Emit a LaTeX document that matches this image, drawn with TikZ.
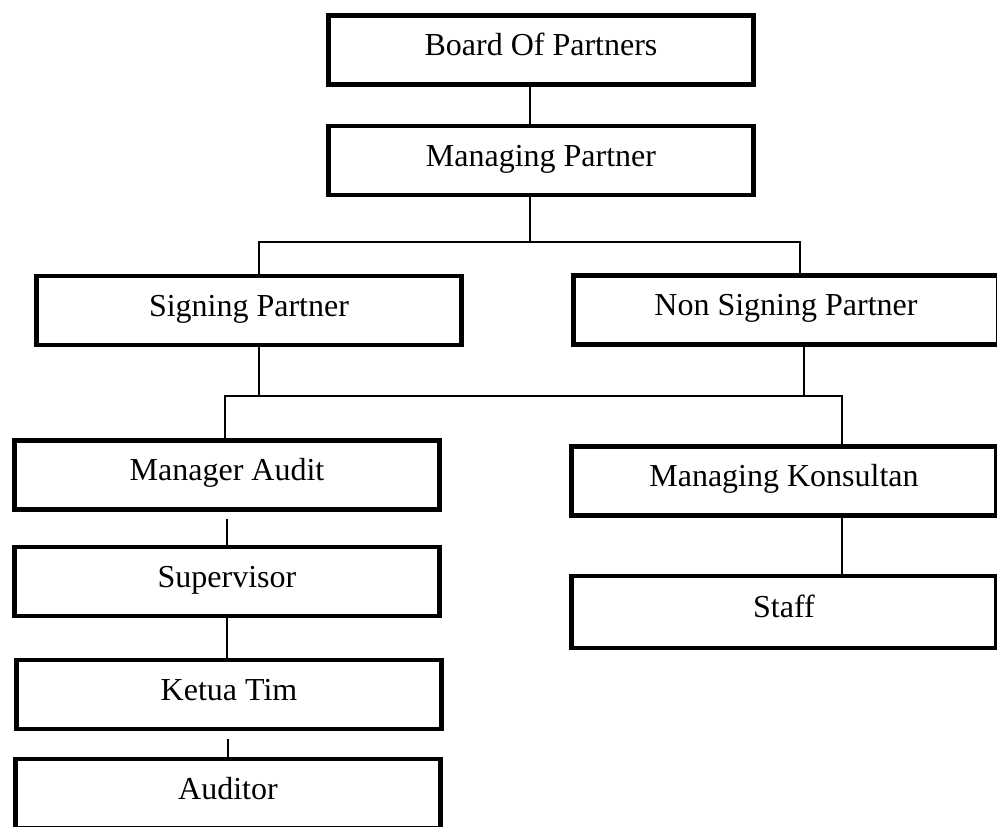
\documentclass[tikz,border=0pt]{standalone}
\usepackage{fontspec}
\setmainfont{Liberation Serif}
\usetikzlibrary{positioning}

\begin{document}
\begin{tikzpicture}[
  x=0.75pt,y=-0.75pt,
  post/.style={draw,line width=3.4pt,minimum width=319pt,minimum height=52pt,
    inner sep=0pt,text height=16pt,text depth=7.5pt,
    font=\fontsize{24}{28}\selectfont},
  link/.style={line width=1pt}]

  \useasboundingbox (0,0) rectangle (997,826);
  \clip (0,0) rectangle (997,826);

  % positions
  \node[post] (board) at (541,50) {Board Of Partners};
  \node[post] (mp) at (541,160.5) {Managing Partner};
  \node[post] (sp) at (249,310.5) {Signing Partner};
  \node[post] (nsp) at (786,310) {Non Signing Partner};
  \node[post] (ma) at (227,475) {Manager Audit};
  \node[post] (mk) at (784,481) {Managing Konsultan};
  \node[post] (sup) at (227,581.5) {Supervisor};
  \node[post] (kt) at (229,694.5) {Ketua Tim};
  \node[post] (aud) at (228,793.5) {Auditor};
  \node[post,minimum height=54pt] (staff) at (784,612) {Staff};

  % bus lines
  \coordinate (busA) at (530,242);
  \coordinate (busAl) at (259,242);
  \coordinate (busAr) at (800,242);
  \coordinate (busB) at (259,396);
  \coordinate (busBn) at (804,396);
  \coordinate (busBl) at (225,396);
  \coordinate (busBr) at (842,396);

  \draw[link] (board.south -| busA) -- (mp.north -| busA);
  \draw[link] (mp.south -| busA) -- (busA);
  \draw[link] (sp.north -| busAl) |- (busAr) -- (nsp.north -| busAr);
  \draw[link] (sp.south -| busB) -- (busB);
  \draw[link] (nsp.south -| busBn) -- (busBn);
  \draw[link] (ma.north -| busBl) |- (busBr) -- (mk.north -| busBr);
  \draw[link] (mk.south -| busBr) -- (staff.north -| busBr);
  \draw[link,shorten <=5pt] (ma.south) -- (sup.north);
  \draw[link] (sup.south) -- (kt.north -| sup.south);
  \draw[link,shorten <=6pt] (kt.south -| aud.north) -- (aud.north);
\end{tikzpicture}
\end{document}
